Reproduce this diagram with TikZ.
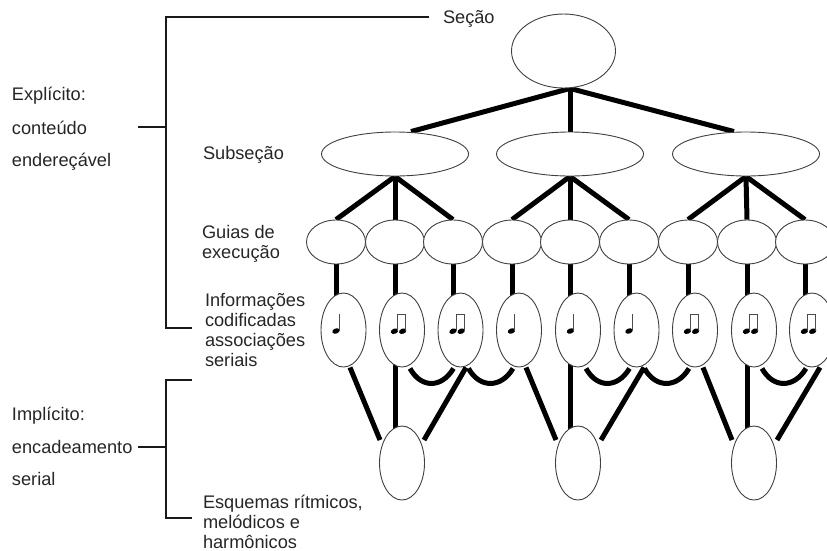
\documentclass[tikz,border=0pt]{standalone}
\usepackage{fontspec}
\setmainfont{Liberation Sans}
\usetikzlibrary{shapes.geometric,backgrounds}
\tikzset{
  x=1pt,y=-1pt,
  blob/.style={ellipse,draw=black!75,line width=0.9pt,fill=white,inner sep=0pt},
  topblob/.style={blob,minimum width=104pt,minimum height=74pt},
  subblob/.style={blob,minimum width=147pt,minimum height=44pt},
  guide/.style={blob,minimum width=59pt,minimum height=44pt},
  noteblob/.style={blob,minimum width=45pt,minimum height=74pt},
  schema/.style={blob,minimum width=45pt,minimum height=74pt},
  link/.style={line width=5pt,black},
  brace/.style={line width=1.4pt,black!90},
  lab/.style={inner sep=0pt,outer sep=0pt,anchor=west,align=left,font=\fontsize{18.2}{20.3}\selectfont,text=black!85},
  qnote/.pic={
    \fill[black] (-7.5,1) ellipse[x radius=3.8,y radius=2.6,rotate=20];
    \draw[line width=0.9pt,black!70] (-4.2,0.5) -- (-4.2,-16);
  },
  bnote/.pic={
    \fill[black] (-7.5,1.2) ellipse[x radius=3.8,y radius=2.6,rotate=20];
    \fill[black] (0.7,1.2) ellipse[x radius=3.8,y radius=2.6,rotate=20];
    \draw[line width=0.9pt,black!70] (-4.2,0.5) -- (-4.2,-16) -- (3.9,-16) -- (3.9,0.5);
  },
}
\begin{document}
\begin{tikzpicture}
\useasboundingbox (0,0) rectangle (827,550);
% hierarchy
\node[topblob] (top) at (563.5,51) {};
\node[subblob] (sa) at (395,154) {};
\node[subblob] (sb) at (570,154) {};
\node[subblob] (sc) at (746,154) {};
\foreach \n/\x in {1/336,2/395,3/453,4/512,5/570,6/629,7/688,8/747,9/805}
  \node[guide] (g\n) at (\x,242) {};
\foreach \n/\x in {1/343.5,2/402,3/460.5,4/519,5/578,6/636.5,7/695,8/754,9/812}
  \node[noteblob] (n\n) at (\x,330) {};
\node[schema] (ea) at (402,463) {};
\node[schema] (eb) at (578,463) {};
\node[schema] (ec) at (754,463) {};
% notes
\foreach \n in {1,4,5,6} \pic at (n\n.center) {qnote};
\foreach \n in {2,3,7,8,9} \pic at (n\n.center) {bnote};
% connectors
\begin{pgfonlayer}{background}
\draw[link] ([xshift=6.5]top.south) -- ([xshift=16]sa.north);
\draw[link] ([xshift=6.5]top.south) -- (sb.north);
\draw[link] ([xshift=6.5]top.south) -- ([xshift=-12]sc.north);
\draw[link] (sa.south) -- (g1.north);
\draw[link] (sa.south) -- (g2.north);
\draw[link] (sa.south) -- (g3.north);
\draw[link] (sb.south) -- (g4.north);
\draw[link] (sb.south) -- (g5.north);
\draw[link] (sb.south) -- (g6.north);
\draw[link] (sc.south) -- (g7.north);
\draw[link] (sc.south) -- (g8.north);
\draw[link] (sc.south) -- (g9.north);
\foreach \n in {1,...,9}
  \draw[link] (g\n.south) -- (g\n.south |- n\n.center);
% note to schema
\draw[link] ([xshift=6.5]n1.south) -- ([xshift=-22,yshift=23]ea.center);
\draw[link] (g2.south |- n2.center) -- (g2.south |- ea.center);
\draw[link] ([xshift=5.5]n3.south) -- ([xshift=22,yshift=23]ea.center);
\draw[link] ([xshift=7]n4.south) -- ([xshift=-22,yshift=23]eb.center);
\draw[link] (g5.south |- n5.center) -- (g5.south |- eb.center);
\draw[link] ([xshift=7.5]n6.south) -- ([xshift=23,yshift=23]eb.center);
\draw[link] ([xshift=8]n7.south) -- ([xshift=-22,yshift=23]ec.center);
\draw[link] (g8.south |- n8.center) -- (g8.south |- ec.center);
\draw[link] ([xshift=8]n9.south) -- ([xshift=23,yshift=23]ec.center);
% serial links
\draw[link] ([xshift=8,yshift=-1]n2.south) .. controls +(11,20) and +(-12,20) .. ([xshift=-7,yshift=-1]n3.south);
\draw[link] ([xshift=8,yshift=-1]n3.south) .. controls +(11,20) and +(-12,20) .. ([xshift=-6,yshift=-1]n4.south);
\draw[link] ([xshift=8,yshift=-1]n5.south) .. controls +(11,20) and +(-12,20) .. ([xshift=-7,yshift=-1]n6.south);
\draw[link] ([xshift=8,yshift=-1]n6.south) .. controls +(11,20) and +(-12,20) .. ([xshift=-6,yshift=-1]n7.south);
\draw[link] ([xshift=8,yshift=-1]n8.south) .. controls +(11,20) and +(-12,20) .. ([xshift=-6,yshift=-1]n9.south);
\end{pgfonlayer}
% labels
\node[lab] (secao) at (443,19) {Seção};
\node[lab] (subsecao) at (203,155) {Subseção};
\node[lab] (guias) at (202,244) {Guias de\\execução};
\node[lab] (info) at (205,330) {Informações\\codificadas\\associações\\seriais};
\node[lab] (esq) at (203,522) {Esquemas rítmicos,\\melódicos e\\harmônicos};
\node[lab] (expl) at (12,95.5) {Explícito:};
\node[lab] (cont) at (12,128) {conteúdo};
\node[lab] (ender) at (12,162) {endereçável};
\node[lab] (impl) at (12,415.5) {Implícito:};
\node[lab] (enc) at (12,447) {encadeamento};
\node[lab] (ser) at (12,479) {serial};
% brackets
\coordinate (ua) at (192,328);
\coordinate (ub) at (166,328);
\coordinate (uc) at (166,17);
\coordinate (us) at (166,127);
\coordinate (ut) at (138,127);
\coordinate (la) at (192,380);
\coordinate (lb) at (166,380);
\coordinate (lc) at (166,518);
\coordinate (ld) at (192,518);
\coordinate (ls) at (166,447);
\draw[brace] ([xshift=-14]secao.west |- uc) -- (uc) -- (ub) -- (ua);
\draw[brace] (ut) -- (us);
\draw[brace] (la) -- (lb) -- (lc) -- (ld);
\draw[brace] ([xshift=6]enc.east) -- (ls);
\end{tikzpicture}
\end{document}
